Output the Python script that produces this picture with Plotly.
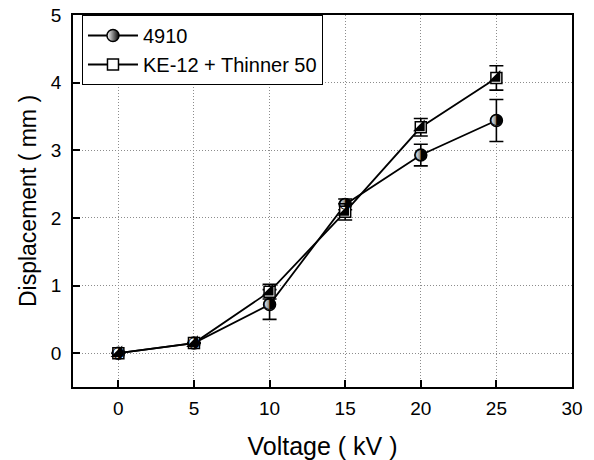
import plotly.graph_objects as go

voltage = [0, 5, 10, 15, 20, 25]
disp_4910 = [0.0, 0.15, 0.72, 2.20, 2.93, 3.44]
err_4910 = [0.0, 0.0, 0.22, 0.08, 0.16, 0.31]
disp_ke12 = [0.0, 0.15, 0.91, 2.09, 3.34, 4.07]
err_ke12 = [0.0, 0.0, 0.11, 0.12, 0.13, 0.18]
names = ["4910", "KE-12 + Thinner 50"]
x_ticks = [0, 5, 10, 15, 20, 25, 30]
y_ticks = [0, 1, 2, 3, 4, 5]

FONT = "Liberation Sans, Arial"
fig = go.Figure()

# main series: lines, open markers, error bars
fig.add_trace(go.Scatter(
    x=voltage, y=disp_4910, name=names[0], mode="lines+markers",
    line=dict(color="black", width=1.8),
    marker=dict(symbol="circle", size=12, color="white",
                line=dict(color="black", width=1.5),
                gradient=dict(type="horizontal", color="black")),
    error_y=dict(type="data", array=err_4910, visible=True, color="black",
                 thickness=1.6, width=7),
))
fig.add_trace(go.Scatter(
    x=voltage, y=disp_ke12, name=names[1], mode="lines+markers",
    line=dict(color="black", width=1.8),
    marker=dict(symbol="square", size=11, color="white",
                line=dict(color="black", width=1.5)),
    error_y=dict(type="data", array=err_ke12, visible=True, color="black",
                 thickness=1.6, width=7),
))

# half-black fills of the markers
fig.add_trace(go.Scatter(
    x=voltage, y=disp_4910, mode="text", text=["\u25D1"] * len(voltage),
    textposition="middle center",
    textfont=dict(family="DejaVu Sans", size=15, color="black"),
    showlegend=False, hoverinfo="skip",
))
fig.add_trace(go.Scatter(
    x=voltage, y=disp_ke12, mode="markers",
    marker=dict(symbol="triangle-se", size=13, color="black", line=dict(width=0)),
    showlegend=False, hoverinfo="skip",
))

axis_common = dict(
    showline=True, linecolor="black", linewidth=1.6, mirror=True,
    ticks="inside", ticklen=7, tickwidth=1.6, tickcolor="black",
    showgrid=True, gridcolor="#8c8c8c", griddash="1px,2px", gridwidth=1,
    zeroline=False, automargin=False,
    tickfont=dict(family=FONT, size=19, color="black"),
)

fig.update_layout(
    width=594, height=460,
    margin=dict(l=73, r=22, t=15, b=73),
    paper_bgcolor="white", plot_bgcolor="white",
    xaxis=dict(range=[-3, 30], tickvals=x_ticks, ticklabelstandoff=3,
               title=dict(text="Voltage ( kV )",
                          font=dict(family=FONT, size=25, color="black"),
                          standoff=22),
               **axis_common),
    yaxis=dict(range=[-0.5, 5], tickvals=y_ticks, ticklabelstandoff=6,
               title=dict(text="Displacement ( mm )",
                          font=dict(family=FONT, size=23, color="black"),
                          standoff=8),
               **axis_common),
    legend=dict(x=0.018, y=1.0, xanchor="left", yanchor="top",
                bordercolor="black", borderwidth=1, bgcolor="white",
                font=dict(family=FONT, size=20, color="black"),
                itemwidth=50, tracegroupgap=2),
    showlegend=True,
)

fig.write_html("out.html")
